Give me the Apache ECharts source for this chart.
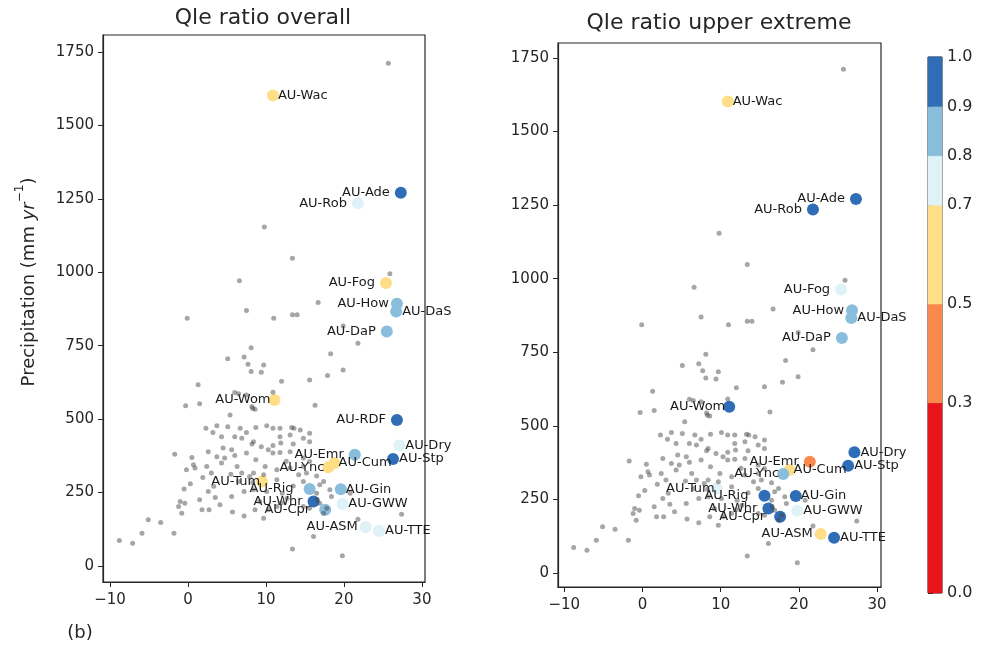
<!DOCTYPE html>
<html><head><meta charset="utf-8">
<script src="https://cdn.jsdelivr.net/npm/echarts@6/dist/echarts.min.js"></script>
<style>html,body{margin:0;padding:0;background:#fff}#c{width:990px;height:652px}</style>
</head><body><div id="c"></div>
<script>
// ---------- data ----------
const fluxTemp = [25.7,9.8,13.4,6.6,25.9,7.5,16.7,-0.1,11.0,13.4,14.0,19.9,21.8,8.1,18.3,7.2,5.1,7.7,9.7,8.1,9.4,19.9,17.9,12.0,15.6,1.3,6.0,6.5,7.5,10.9,-0.3,1.5,5.4,8.2,8.6,8.3,16.3,2.3,3.7,5.1,6.7,8.7,10.1,10.9,11.8,13.3,14.4,13.6,15.6,3.2,4.3,6.0,6.9,7.5,11.8,13.1,14.8,8.4,8.2,9.4,10.9,11.9,13.5,15.6,4.5,5.6,-1.7,0.5,2.6,3.7,4.7,6.0,7.5,8.7,10.9,11.8,13.1,14.8,15.6,0.7,-0.2,0.9,2.4,4.3,6.9,8.4,9.9,11.4,13.1,14.8,15.2,16.5,1.9,3.0,5.5,6.5,7.9,8.3,9.7,11.4,14.2,14.8,2.6,3.5,5.6,7.2,8.4,10.1,12.1,13.5,16.9,17.4,-1.0,-0.4,-1.2,-0.8,1.5,1.8,2.7,4.1,5.7,7.2,8.6,9.2,10.3,9.7,11.4,12.7,16.5,16.6,16.9,17.8,15.6,14.8,18.2,18.4,-5.1,-3.5,-5.9,-1.8,-8.8,-7.1,21.8,27.4,16.1,17.4,13.4,19.8,12.6,10.3,6.3,3.3,0.3,-0.5,12.0,20.8];
const fluxPrecip = [1712,1154,1048,971,995,870,897,843,843,855,855,817,758,743,722,711,705,687,684,662,659,667,648,629,633,617,590,586,582,591,545,552,514,543,533,536,547,469,477,474,469,471,477,469,469,471,463,469,452,454,440,440,435,454,440,446,435,423,415,406,410,418,415,423,401,395,380,369,389,372,367,376,384,361,384,386,389,367,355,344,327,333,338,350,316,316,338,327,333,338,316,306,301,316,312,287,304,284,310,293,310,287,253,233,236,253,259,253,247,272,276,287,219,213,202,179,225,191,191,208,183,170,191,219,191,162,202,230,247,225,213,196,196,202,259,236,157,148,111,111,86,77,159,176,100,179,57,34,356,395,338,271,280,262,215,247];

const siteNames  = ['AU-Wac','AU-Ade','AU-Rob','AU-Fog','AU-How','AU-DaS','AU-DaP','AU-Wom','AU-RDF','AU-Dry','AU-Stp','AU-Emr','AU-Cum','AU-Ync','AU-Tum','AU-Rig','AU-Gin','AU-Whr','AU-GWW','AU-Cpr','AU-ASM','AU-TTE'];
const siteTemp   = [10.9,27.3,21.8,25.4,26.8,26.7,25.5,11.1,26.8,27.1,26.3,21.4,18.8,18.0,9.5,15.6,19.6,16.1,19.8,17.6,22.8,24.5];
const sitePrecip = [1602,1271,1235,963,893,866,798,565,497,410,364,378,350,336,287,262,261,219,211,191,132,119];
const ratioOverall = [0.60,0.95,0.75,0.60,0.85,0.85,0.85,0.60,0.95,0.75,0.95,0.85,0.60,0.60,0.60,0.85,0.85,0.95,0.75,0.85,0.75,0.75];
const ratioUpper   = [0.60,0.95,0.95,0.75,0.85,0.85,0.85,0.95,null,0.95,0.95,0.40,0.60,0.85,0.75,0.95,0.95,0.95,0.75,0.95,0.60,0.95];

const cbBounds = [0.0,0.3,0.5,0.7,0.8,0.9,1.0];
const cbColors = ['#e8131b','#fa8a4c','#fedf87','#def2f8','#88bedb','#2f6db6'];
const xTicks = [-10,0,10,20,30];
const yTicks = [0,250,500,750,1000,1250,1500,1750];

// ---------- styling (not data) ----------
const cbBottom = -0.085; // drawn position of the colorbar's lower end
const labelSide = {
  'AU-Wac':['right',-1],'AU-DaS':['right',0],'AU-Dry':['right',0],'AU-Stp':['right',0],
  'AU-Cum':['right',-2],'AU-Gin':['right',-1],'AU-GWW':['right',0],'AU-TTE':['right',0],
  'AU-Wom':['left',-2],'AU-Ync':['left',-2],'AU-Tum':['left',-4],'AU-Rig':['left',10],
  'AU-Cpr':['left',9],'AU-ASM':['left',2],'AU-How':['left',2]
};
const INK = '#262626';
const FONT = 'DejaVu Sans';

function siteData(ratios){
  const out = [];
  siteNames.forEach((n,i)=>{
    if (ratios[i] == null) return;
    const s = labelSide[n] || ['left',5];
    out.push({name:n, value:[siteTemp[i], sitePrecip[i], ratios[i]],
      label:{position:s[0], distance:s[1]}});
  });
  return out;
}
const grayData = fluxTemp.map((t,i)=>[t, fluxPrecip[i]]);
const pieces = cbColors.map((c,i)=>({gte:cbBounds[i], lt:cbBounds[i+1] + (i===cbColors.length-1?0.001:0), color:c}));

function xAxis(gi, min, max){
  return {type:'value', gridIndex:gi, min, max, splitLine:{show:false},
    axisLine:{show:true, onZero:false, lineStyle:{color:INK, width:1.2}},
    axisTick:{show:true, length:5, customValues:xTicks, lineStyle:{color:INK}},
    axisLabel:{customValues:xTicks, color:INK, fontSize:15, fontFamily:FONT, margin:11,
      formatter:v=> v<0 ? '\u2212'+Math.abs(v) : String(v)}};
}
function yAxis(gi, min, max){
  return {type:'value', gridIndex:gi, min, max, splitLine:{show:false},
    axisLine:{show:true, onZero:false, lineStyle:{color:INK, width:1.2}},
    axisTick:{show:true, length:5, customValues:yTicks, lineStyle:{color:INK}},
    axisLabel:{customValues:yTicks, color:INK, fontSize:15, fontFamily:FONT, margin:9,
      formatter:v=> String(v)}};
}
function siteSeries(ai, ratios){
  return {type:'scatter', xAxisIndex:ai, yAxisIndex:ai, symbolSize:12, data:siteData(ratios),
    itemStyle:{opacity:1}, z:2,
    label:{show:true, formatter:'{b}', color:'#1a1a1a', fontSize:13, fontFamily:FONT}};
}
function graySeries(ai){
  return {type:'scatter', xAxisIndex:ai, yAxisIndex:ai, symbolSize:5, data:grayData,
    itemStyle:{color:'rgba(70,70,70,0.6)'}, z:3, silent:true};
}

const option = {
  animation:false,
  backgroundColor:'#fff',
  textStyle:{fontFamily:FONT},
  grid:[
    {left:103, top:35, width:322, height:547, show:true, borderColor:INK, borderWidth:1.2},
    {left:558, top:43, width:323, height:544, show:true, borderColor:INK, borderWidth:1.2},
    {left:928, top:57, width:14, height:536, show:true, borderColor:INK, borderWidth:1}
  ],
  xAxis:[ xAxis(0,-10.9,30.4), xAxis(1,-10.8,30.5),
    {type:'value', gridIndex:2, min:0, max:1, show:false} ],
  yAxis:[ yAxis(0,-55,1808), yAxis(1,-48,1801),
    {type:'value', gridIndex:2, min:cbBottom, max:1, position:'right', splitLine:{show:false},
     axisLine:{show:false},
     axisTick:{show:true, length:5, customValues:cbBounds.map(v=>v===0?cbBottom:v), lineStyle:{color:INK}},
     axisLabel:{customValues:cbBounds.map(v=>v===0?cbBottom:v), color:INK, fontSize:16, fontFamily:FONT, margin:5,
       formatter:v=> (v<=0 ? 0 : v).toFixed(1)}} ],
  visualMap:[
    {type:'piecewise', show:false, dimension:2, seriesIndex:0, pieces},
    {type:'piecewise', show:false, dimension:2, seriesIndex:2, pieces}
  ],
  series:[
    siteSeries(0, ratioOverall), graySeries(0),
    siteSeries(1, ratioUpper), graySeries(1),
    {type:'custom', xAxisIndex:2, yAxisIndex:2, silent:true,
     data: cbColors.map((c,i)=>[i===0?cbBottom:cbBounds[i], cbBounds[i+1], i]),
     renderItem:(params, api)=>{
       const a = api.coord([0, api.value(1)]);
       const b = api.coord([1, api.value(0)]);
       return {type:'rect', shape:{x:a[0], y:a[1], width:b[0]-a[0], height:b[1]-a[1]},
         style:{fill:cbColors[api.value(2)], stroke:cbColors[api.value(2)], lineWidth:0.5}};
     }}
  ],
  graphic:[
    {type:'text', x:263, y:18, style:{text:'Qle ratio overall', font:'22px "DejaVu Sans"', fill:INK, textAlign:'center', textVerticalAlign:'middle'}},
    {type:'text', x:719, y:23, style:{text:'Qle ratio upper extreme', font:'22px "DejaVu Sans"', fill:INK, textAlign:'center', textVerticalAlign:'middle'}},
    {type:'text', x:26, y:282, rotation:Math.PI/2,
     style:{text:'{a|Precipitation (mm }{i|yr}{s|\u22121}{a|)}', textAlign:'center', textVerticalAlign:'middle', fill:INK,
       rich:{a:{fontSize:18, fontFamily:FONT, lineHeight:24, verticalAlign:'bottom'},
             i:{fontSize:18, fontFamily:FONT, fontStyle:'italic', lineHeight:24, verticalAlign:'bottom'},
             s:{fontSize:12, fontFamily:FONT, lineHeight:24, verticalAlign:'top'}}}},
    {type:'text', x:80, y:633, style:{text:'(b)', font:'18px "DejaVu Sans"', fill:INK, textAlign:'center', textVerticalAlign:'middle'}}
  ]
};
const chart = echarts.init(document.getElementById('c'), null, {renderer:'canvas'});
chart.setOption(option);
</script></body></html>
